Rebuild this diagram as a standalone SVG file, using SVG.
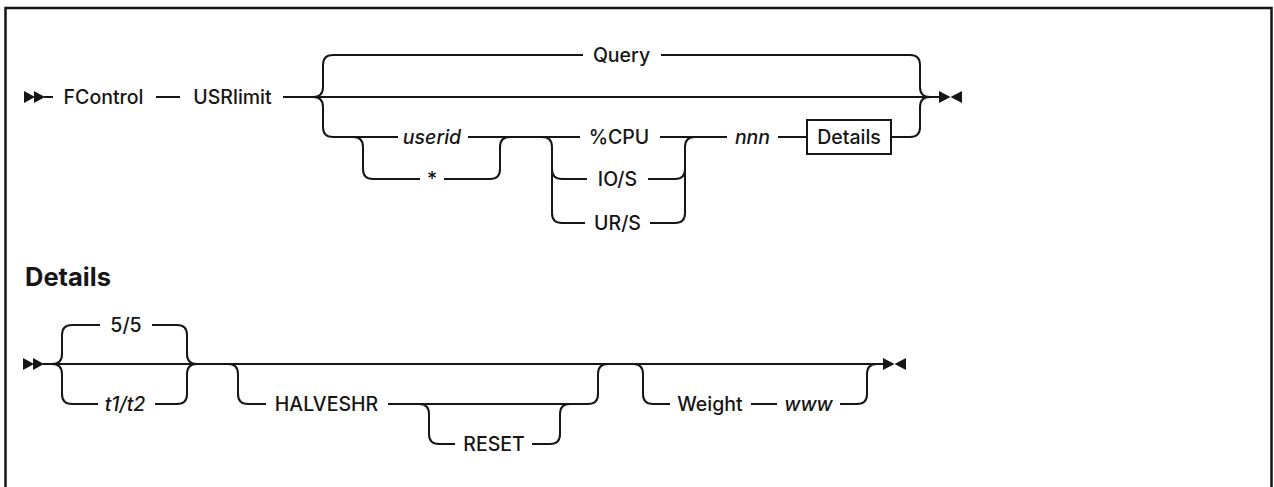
<svg xmlns="http://www.w3.org/2000/svg" width="1274" height="487" viewBox="0 0 1274 487">
<style>
.ln{fill:none;stroke:#161616;stroke-width:2}
.t{font-family:Inter,"Liberation Sans",Arial,sans-serif;font-size:19.5px;font-weight:500;fill:#161616;text-anchor:middle}
.i{font-style:italic}
.h{font-family:Inter,"Liberation Sans",Arial,sans-serif;font-size:25.5px;font-weight:700;fill:#161616}
.mk{fill:#161616}
</style>
<defs>
<g id="start"><polygon points="0,-6 11,0 0,6"/><polygon points="10,-6 21,0 10,6"/></g>
<g id="end"><polygon points="0,-6 11.5,0 0,6"/><polygon points="23,-6 11.5,0 23,6"/></g>
</defs>
<rect x="5.5" y="8" width="1266" height="520" fill="#fff" stroke="#161616" stroke-width="2.5"/>
<g id="connectors">
<path class="ln" d="M44 97 L53 97 M156 97 L180 97 M283 97 L939 97"/>
<path class="ln" d="M313 97 Q323 97 323 87 L323 65 Q323 55 333 55 L583 55 M661 55 L910 55 Q920 55 920 65 L920 87 Q920 97 930 97"/>
<path class="ln" d="M313 97 Q323 97 323 107 L323 127 Q323 137 333 137 L398 137 M468 137 L580 137 M660 137 L727 137 M778 137 L807 137 M891 137 L910 137 Q920 137 920 127 L920 107 Q920 97 930 97"/>
<path class="ln" d="M353 137 Q363 137 363 147 L363 169 Q363 179 373 179 L420 179 M444 179 L490 179 Q500 179 500 169 L500 147 Q500 137 510 137"/>
<path class="ln" d="M542 137 Q552 137 552 147 L552 213 Q552 223 562 223 L585 223 M650 223 L675 223 Q685 223 685 213 L685 147 Q685 137 695 137 M552 169 Q552 179 562 179 L587 179 M648 179 L675 179 Q685 179 685 169"/>
<path class="ln" d="M43 364 L883 364"/>
<path class="ln" d="M52 364 Q62 364 62 354 L62 335 Q62 325 72 325 L100 325 M152 325 L177 325 Q187 325 187 335 L187 354 Q187 364 197 364"/>
<path class="ln" d="M52 364 Q62 364 62 374 L62 394 Q62 404 72 404 L98 404 M155 404 L177 404 Q187 404 187 394 L187 374 Q187 364 197 364"/>
<path class="ln" d="M228 364 Q238 364 238 374 L238 394 Q238 404 248 404 L266 404 M388 404 L588 404 Q598 404 598 394 L598 374 Q598 364 608 364"/>
<path class="ln" d="M419 404 Q429 404 429 414 L429 434 Q429 444 439 444 L455 444 M532 444 L550 444 Q560 444 560 434 L560 414 Q560 404 570 404"/>
<path class="ln" d="M633 364 Q643 364 643 374 L643 394 Q643 404 653 404 L670 404 M751 404 L777 404 M840 404 L857 404 Q867 404 867 394 L867 374 Q867 364 877 364"/>
<use href="#start" x="24" y="97" class="mk"/>
<use href="#end" x="939" y="97" class="mk"/>
<use href="#start" x="23" y="364" class="mk"/>
<use href="#end" x="883" y="364" class="mk"/>
</g>
<g id="n-fcontrol"><text class="t" x="103.5" y="104">FControl</text></g>
<g id="n-usrlimit"><text class="t" x="232.5" y="104">USRlimit</text></g>
<g id="n-query"><text class="t" x="621.5" y="62">Query</text></g>
<g id="n-userid"><text class="t i" x="432" y="144">userid</text></g>
<g id="n-star"><text class="t" x="432" y="186">*</text></g>
<g id="n-cpu"><text class="t" x="619" y="144">%CPU</text></g>
<g id="n-ios"><text class="t" x="617.5" y="186">IO/S</text></g>
<g id="n-urs"><text class="t" x="617.5" y="230">UR/S</text></g>
<g id="n-nnn"><text class="t i" x="752.5" y="144">nnn</text></g>
<g id="n-details-ref"><rect x="807" y="120" width="84" height="34" fill="none" stroke="#161616" stroke-width="2"/><text class="t" x="849" y="144">Details</text></g>
<g id="n-details-head"><text class="h" x="25" y="286">Details</text></g>
<g id="n-55"><text class="t" x="126" y="332">5/5</text></g>
<g id="n-t1t2"><text class="t i" x="125" y="411">t1/t2</text></g>
<g id="n-halveshr"><text class="t" x="326.5" y="411">HALVESHR</text></g>
<g id="n-reset"><text class="t" x="494" y="451">RESET</text></g>
<g id="n-weight"><text class="t" x="710" y="411">Weight</text></g>
<g id="n-www"><text class="t i" x="808.5" y="411">www</text></g>
</svg>
